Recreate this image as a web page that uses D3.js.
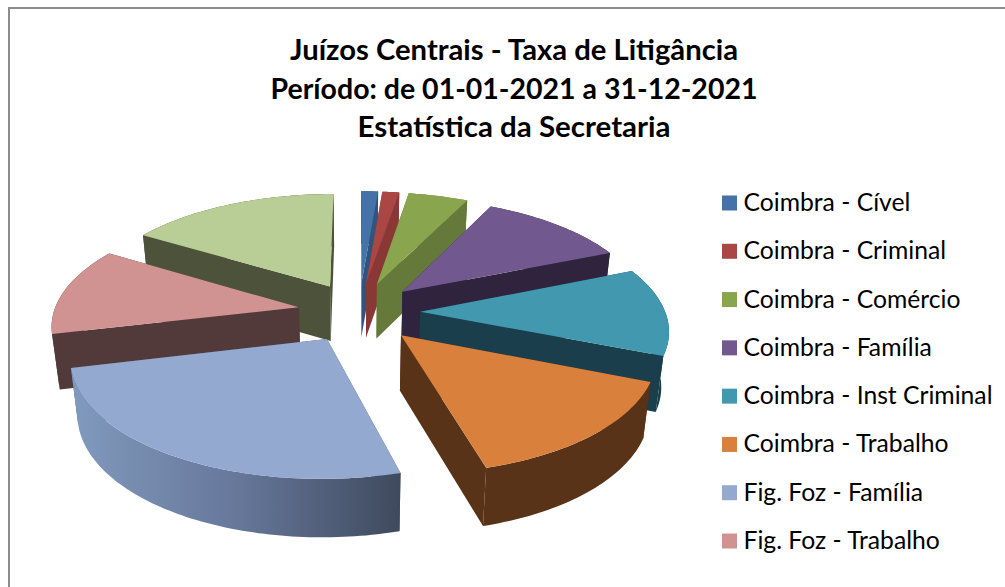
<!DOCTYPE html>
<html><head><meta charset="utf-8">
<style>html,body{margin:0;padding:0;background:#fff;overflow:hidden}svg{display:block}</style>
<script src="https://cdnjs.cloudflare.com/ajax/libs/d3/7.8.5/d3.min.js"></script>
</head><body><svg id="c" width="1005" height="587"></svg>
<script>
const titleLines = ["Juízos Centrais - Taxa de Litigância","Período: de 01-01-2021 a 31-12-2021","Estatística da Secretaria"];
const categories = ["Coimbra - Cível","Coimbra - Criminal","Coimbra - Comércio","Coimbra - Família","Coimbra - Inst Criminal","Coimbra - Trabalho","Fig. Foz - Família","Fig. Foz - Trabalho"];
const values = [1.3,1.3,4.6,11.53,12.36,14.58,25.55,12.5,16.25];
const topColors = ["#4572a7","#aa4643","#89a54e","#71588f","#4198af","#d9813c","#93a9cf","#d19392","#b9cd96"];
const sideColors = ["#2f5480","#8a3836","#64793a","#2f233e","#1a3e4b","#593317","#4a5a78","#533a3a","#4c533a"];
const paintOrder = [0,1,2,3,4,5,8,7,6];

const svg = d3.select("#c");
svg.append("rect").attr("x",9).attr("y",8).attr("width",1100).attr("height",700)
  .attr("fill","#fff").attr("stroke","#8c8c8c").attr("stroke-width",2);

// titles
const titleY = d3.scalePoint().domain(d3.range(titleLines.length)).range([60,137]);
const titleW = [448,487,313];
svg.selectAll("text.t").data(titleLines).join("text").attr("class","t")
  .attr("x",514).attr("y",(d,i)=>titleY(i)).attr("text-anchor","middle")
  .attr("textLength",(d,i)=>titleW[i]).attr("lengthAdjust","spacingAndGlyphs")
  .style("font-family","Lato, 'Open Sans', sans-serif").style("font-weight",700).style("font-size","28px").attr("fill","#000")
  .text(d=>d);

// legend
const legY = d3.scaleLinear().domain([0,7]).range([203,541]);
const legend = svg.selectAll("g.l").data(categories).join("g").attr("class","l");
legend.append("rect").attr("x",722).attr("y",(d,i)=>legY(i)-7.5).attr("width",15).attr("height",15).attr("fill",(d,i)=>topColors[i]);
legend.append("text").attr("x",743.5).attr("y",(d,i)=>legY(i)+8).text(d=>d)
  .style("font-family","Lato, 'Open Sans', sans-serif").style("font-size","24.7px").attr("fill","#000");

// 3D exploded pie
const cx=359, cy=312, rx=245, ry=112, k=0.14, explodeX=0.25, explodeY=0.27, depth=55, bottomScale=0.975;
const arcs = d3.pie().sort(null).value(d=>d).startAngle(0).endAngle(2*Math.PI)(values);
function project(X,Y,bottom){
  const f=1/(1+k*Y);
  let sx=cx+rx*X*f, sy=cy-ry*Y*f;
  if(bottom){ sx=cx+(sx-cx)*bottomScale; sy+=depth*(1+(f-1)*0.3); }
  return [sx,sy];
}
const line=d3.line();
const defs=svg.append("defs");
const grad=defs.append("linearGradient").attr("id","wall6").attr("gradientUnits","userSpaceOnUse")
  .attr("x1",75).attr("x2",403).attr("y1",0).attr("y2",0);
grad.append("stop").attr("offset",0).attr("stop-color","#8099bc");
grad.append("stop").attr("offset",0.5).attr("stop-color","#66779a");
grad.append("stop").attr("offset",1).attr("stop-color","#3e495c");

function slice(a){
  const mid=(a.startAngle+a.endAngle)/2;
  const ox=explodeX*Math.sin(mid), oy=explodeY*Math.cos(mid);
  const n=Math.max(4,Math.ceil((a.endAngle-a.startAngle)/0.02));
  const ang=d3.range(n+1).map(i=>a.startAngle+(a.endAngle-a.startAngle)*i/n);
  const pt=(t,b)=>project(ox+Math.sin(t),oy+Math.cos(t),b);
  const apex=b=>project(ox,oy,b);
  const i=a.index, col=sideColors[i];
  const g=svg.append("g");
  const edge=t=>[apex(false),pt(t,false),pt(t,true),apex(true)];
  g.append("path").attr("d",line(edge(a.startAngle))+"Z").attr("fill",col);
  g.append("path").attr("d",line(edge(a.endAngle))+"Z").attr("fill",col);
  const wall=ang.map(t=>pt(t,false)).concat(ang.slice().reverse().map(t=>pt(t,true)));
  g.append("path").attr("d",line(wall)+"Z").attr("fill",i===6?"url(#wall6)":col);
  const top=[apex(false)].concat(ang.map(t=>pt(t,false)));
  g.append("path").attr("d",line(top)+"Z").attr("fill",topColors[i]);
}
paintOrder.forEach(i=>slice(arcs[i]));
</script></body></html>
